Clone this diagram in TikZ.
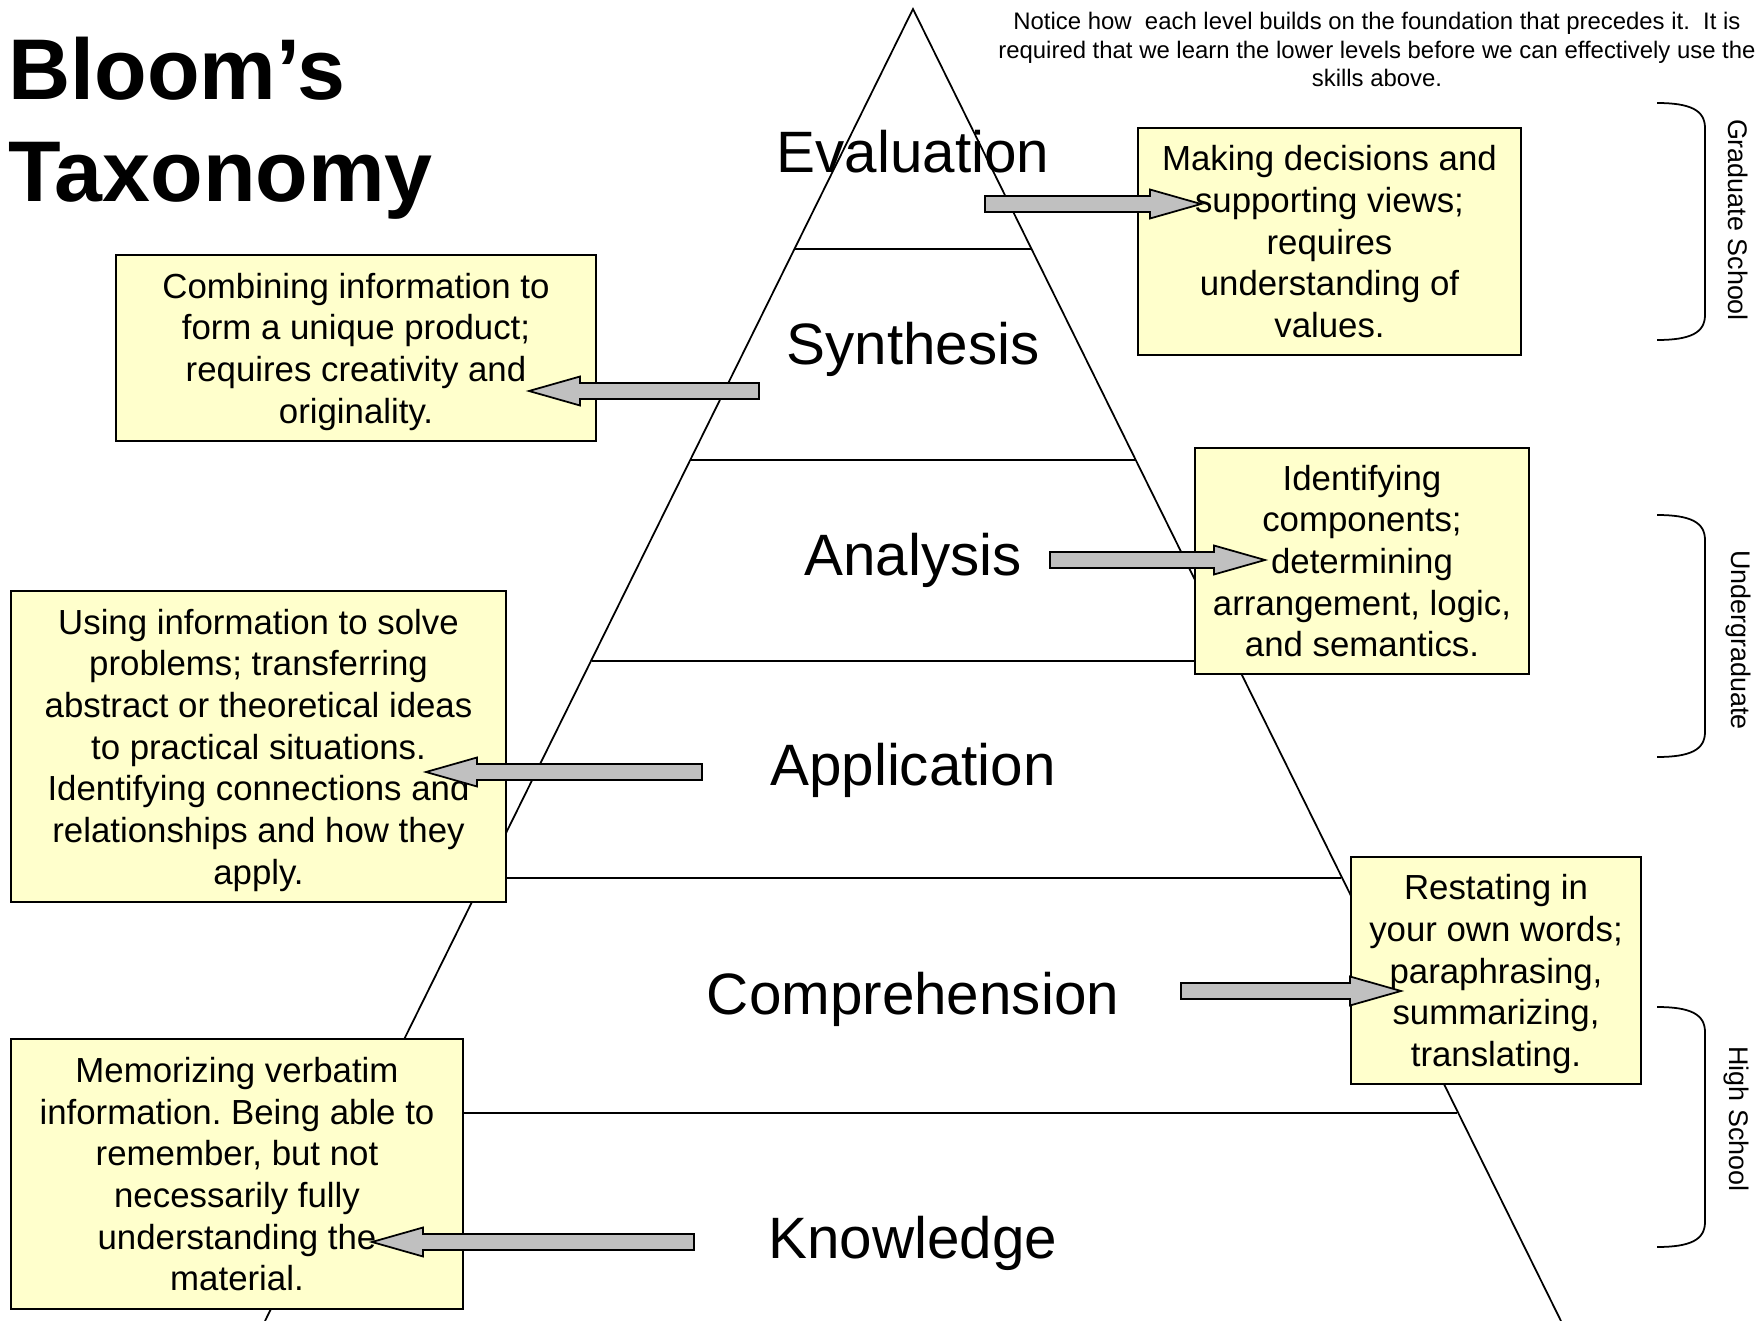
\documentclass[tikz,border=0pt]{standalone}
\usepackage{fontspec}
\setmainfont{Liberation Sans}
\usepackage{tikz}
\usetikzlibrary{calc}
\definecolor{notefill}{HTML}{FFFFCC}
\definecolor{arrowgray}{HTML}{C0C0C0}
\tikzset{
    level/.style={font=\fontsize{16.6}{20}\selectfont, anchor=base}, % the names inside the pyramid
    notebox/.style={draw=black, fill=notefill, line width=0.6pt, align=center, inner sep=0pt, text depth=0pt, font=\fontsize{9.9}{11.85}\selectfont}, % the yellow boxes
    blockarrow/.style={draw=black, fill=arrowgray, line width=0.5pt}, % the fat gray arrows
    stage/.style={rotate=-90, font=\fontsize{7.65}{9}\selectfont}, % school names on the right
    }
% fat arrow from #1 (tail) to #2 (tip)
\newcommand{\fatarrow}[2]{%
  \draw[blockarrow] ($(#1)+(0,-8)$) -- ($(#2)!0.51cm!(#1)+(0,-8)$) -- ($(#2)!0.51cm!(#1)+(0,-14.5)$) -- (#2)
    -- ($(#2)!0.51cm!(#1)+(0,14.5)$) -- ($(#2)!0.51cm!(#1)+(0,8)$) -- ($(#1)+(0,8)$) -- cycle;}
% bracket on the right side from y=#1 to y=#2
\newcommand{\stagebrace}[2]{%
  \draw[line width=0.5pt] (1657,#1) .. controls (1690,#1) and (1705,#1+7) .. (1705,#1+25) -- (1705,#2-25)
    .. controls (1705,#2-7) and (1690,#2) .. (1657,#2);}
\begin{document}
\frenchspacing
\begin{tikzpicture}[x=0.01cm, y=-0.01cm, line width=0.5pt]
\useasboundingbox (0,0) rectangle (1756,1321);

% pyramid
\coordinate (apex) at (913,9);
\coordinate (baseleft) at (265,1321);
\coordinate (baseright) at (1561,1321);
\draw (baseleft) -- (apex) -- (baseright);
\foreach \y in {249,460,661,878,1113}
  \draw ({913-0.493*(\y-9)},\y) -- ({913+0.493*(\y-9)},\y);

\node[level] (eval) at (913,172.3) {Evaluation};
\node[level] (syn) at (913,364.8) {Synthesis};
\node[level] (ana) at (913,575.8) {Analysis};
\node[level] (app) at (913,785.8) {Application};
\node[level] (comp) at (913,1014.8) {Comprehension};
\node[level] (know) at (913,1258.8) {Knowledge};

% descriptions
\node[notebox, minimum width=3.83cm, minimum height=2.27cm] (evalbox) at (1329.5,241.5)
  {Making decisions and\\supporting views;\\requires\\understanding of\\values.};
\node[notebox, minimum width=4.795cm, minimum height=1.86cm] (synbox) at (356,348)
  {Combining information to\\form a unique product;\\requires creativity and\\originality.};
\node[notebox, minimum width=3.34cm, minimum height=2.26cm] (anabox) at (1362,561)
  {Identifying\\components;\\determining\\arrangement, logic,\\and semantics.};
\node[notebox, minimum width=4.95cm, minimum height=3.11cm] (appbox) at (258.5,746.5)
  {Using information to solve\\problems; transferring\\abstract or theoretical ideas\\to practical situations.\\Identifying connections and\\relationships and how they\\apply.};
\node[notebox, minimum width=2.9cm, minimum height=2.27cm] (compbox) at (1496,970.5)
  {Restating in\\your own words;\\paraphrasing,\\summarizing,\\translating.};
\node[notebox, minimum width=4.515cm, minimum height=2.7cm] (knowbox) at (237,1174)
  {Memorizing verbatim\\information. Being able to\\remember, but not\\necessarily fully\\understanding the\\material.};

% arrows from the levels to the boxes
\coordinate (evaltail) at (985,204);   \coordinate (evaltip) at (1201,204);
\coordinate (syntail) at (759,391);    \coordinate (syntip) at (529,391);
\coordinate (anatail) at (1050,560);   \coordinate (anatip) at (1265,560);
\coordinate (apptail) at (702,772);    \coordinate (apptip) at (426,772);
\coordinate (comptail) at (1181,991);  \coordinate (comptip) at (1401,991);
\coordinate (knowtail) at (694,1242);  \coordinate (knowtip) at (372,1242);
\fatarrow{evaltail}{evaltip}
\fatarrow{syntail}{syntip}
\fatarrow{anatail}{anatip}
\fatarrow{apptail}{apptip}
\fatarrow{comptail}{comptip}
\fatarrow{knowtail}{knowtip}

% title and note
\node[anchor=base west, inner sep=0pt, font=\bfseries\fontsize{24.5}{29}\selectfont] (title) at (7.5,99) {Bloom’s};
\node[anchor=base west, inner sep=0pt, font=\bfseries\fontsize{24.5}{29}\selectfont] (title2) at (7.5,201.5) {Taxonomy};
\node[align=center, inner sep=0pt, font=\fontsize{6.8}{8.1}\selectfont] (note) at (1377,49.5)
  {Notice how\ \ each level builds on the foundation that precedes it.\ \ It is\\required that we learn the lower levels before we can effectively use the\\skills above.};

% school levels
\stagebrace{103}{340}
\stagebrace{515}{757}
\stagebrace{1007}{1247}
\node[stage] (grad) at (1738,220) {Graduate School};
\node[stage] (under) at (1738,640) {Undergraduate};
\node[stage] (high) at (1736,1119) {High School};
\end{tikzpicture}
\end{document}
